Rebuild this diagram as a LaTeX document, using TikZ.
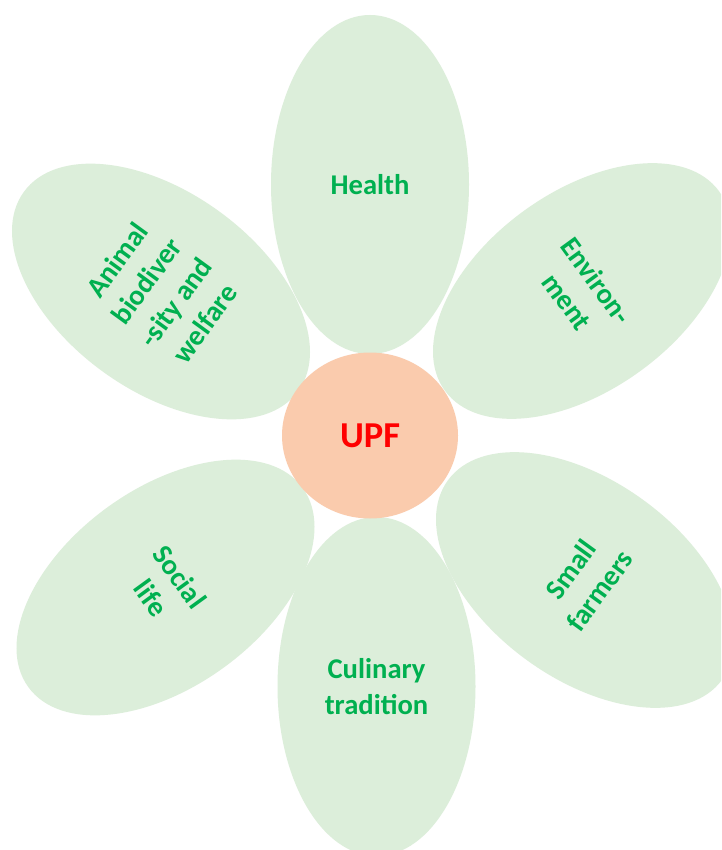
\documentclass[tikz,border=0pt]{standalone}
\usepackage{fontspec}
\setmainfont{Carlito}
\usetikzlibrary{shapes.geometric}
\definecolor{petal}{RGB}{220,238,218}
\definecolor{core}{RGB}{250,203,173}
\definecolor{txtgreen}{RGB}{0,176,80}
\definecolor{txtred}{RGB}{255,0,0}
\tikzset{
  petalnode/.style={ellipse, fill=petal, draw=none, inner sep=0pt,
    minimum width=198pt, minimum height=339pt, align=center,
    text=txtgreen, font=\fontsize{28.6}{36}\selectfont\bfseries},
  corenode/.style={ellipse, fill=core, draw=none, inner sep=0pt,
    minimum width=176pt, minimum height=166pt,
    text=txtred, font=\fontsize{36.5}{44}\selectfont\bfseries}
}
\begin{document}
\begin{tikzpicture}[x=1pt,y=-1pt]
\clip (0,0) rectangle (721,850);
\fill[white] (0,0) rectangle (721,850);
\node[petalnode] (health) at (370,184.5) {Health};
\node[petalnode] (culinary) at (376.5,686.5) {Culinary\\tradition};
\node[petalnode, rotate=54] (animal) at (161,291.5) {Animal\\biodiver\\-sity and\\welfare};
\node[petalnode, rotate=-54] (environment) at (582,291) {Environ-\\ment};
\node[petalnode, rotate=-54] (social) at (165.5,587.5) {Social\\life};
\node[petalnode, rotate=54] (farmers) at (585,580) {Small\\farmers};
\node[corenode] (upf) at (370,435.5) {UPF};
\end{tikzpicture}
\end{document}
